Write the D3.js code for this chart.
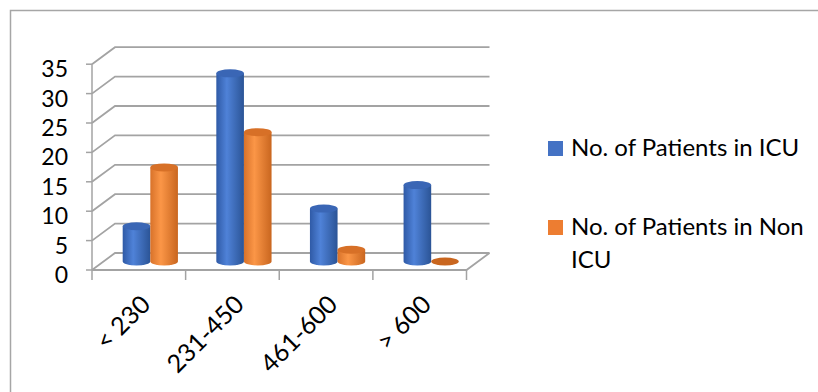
<!DOCTYPE html>
<html>
<head>
<meta charset="utf-8">
<script src="https://cdn.jsdelivr.net/npm/d3@7"></script>
<style>
  body { margin: 0; background: #fff; }
  svg { display: block; font-family: Lato, "Open Sans", sans-serif; }
</style>
</head>
<body>
<div id="chart"></div>
<script>
var categories = ["< 230", "231-450", "461-600", "> 600"];
var seriesNames = ["No. of Patients in ICU", "No. of Patients in Non ICU"];
var icu = [6, 32, 9, 13];
var nonIcu = [16, 22, 2, 0];
var yTicks = [0, 5, 10, 15, 20, 25, 30, 35];

var width = 818, height = 392;
var colors = ["#4472c4", "#ed7d31"];

var svg = d3.select("#chart").append("svg")
    .attr("width", width)
    .attr("height", height);

// outer frame (cut off at right and bottom)
svg.append("path")
    .attr("d", "M10.5,392 L10.5,10.5 L818,10.5")
    .attr("fill", "none")
    .attr("stroke", "#a6a6a6")
    .attr("stroke-width", 1.5);

// depth offset of the 3d box
var dx = 23, dy = 17;
var frontY0 = 270;

var x = d3.scaleBand()
    .domain(categories)
    .range([92, 466.5])
    .paddingInner(0.41)
    .paddingOuter(0.205);

var xs = d3.scaleBand()
    .domain(seriesNames)
    .range([0, x.bandwidth()]);

var yFront = d3.scaleLinear().domain([0, 35]).range([frontY0, frontY0 - 205.8]);
var yBack = function(v) { return yFront(v) - dy; };
var yMid = function(v) { return yFront(v) - dy / 2; };

var grid = svg.append("g")
    .attr("fill", "none")
    .attr("stroke", "#a3a3a3")
    .attr("stroke-width", 1.8);

// gridlines: side diagonal + back wall line
yTicks.forEach(function(v) {
  grid.append("path")
    .attr("d", "M92," + yFront(v) + " L" + (92 + dx) + "," + yBack(v) +
               " L" + (466.5 + dx) + "," + yBack(v));
});

// floor front edge and right diagonal
grid.append("path")
    .attr("d", "M92," + yFront(0) + " L466.5," + yFront(0) +
               " L" + (466.5 + dx) + "," + yBack(0));

// vertical axis + ticks
var axis = svg.append("g")
    .attr("stroke", "#a3a3a3")
    .attr("stroke-width", 1.5);
axis.append("line")
    .attr("x1", 92).attr("x2", 92)
    .attr("y1", yFront(35)).attr("y2", yFront(0));
yTicks.forEach(function(v) {
  axis.append("line")
    .attr("x1", 86).attr("x2", 92)
    .attr("y1", yFront(v)).attr("y2", yFront(v));
});

// category ticks
var step = x.step();
d3.range(categories.length + 1).forEach(function(i) {
  axis.append("line")
    .attr("x1", 92 + i * step).attr("x2", 92 + i * step)
    .attr("y1", yFront(0)).attr("y2", yFront(0) + 10);
});

// y labels
svg.append("g").selectAll("text")
  .data(yTicks)
  .enter().append("text")
    .attr("x", 68)
    .attr("y", function(d) { return yFront(d) + 4; })
    .attr("text-anchor", "end")
    .attr("dominant-baseline", "central")
    .attr("font-size", 23)
    .attr("fill", "#000")
    .text(function(d) { return d; });

// category labels
svg.append("g").selectAll("text")
  .data(categories)
  .enter().append("text")
    .attr("transform", function(d) {
      return "translate(" + (x(d) - x.step() * x.paddingInner() / 2 + step / 2 + 6) + ",299) rotate(-45)";
    })
    .attr("text-anchor", "end")
    .attr("dominant-baseline", "central")
    .attr("font-size", 25)
    .attr("fill", "#000")
    .text(function(d) { return d; });

// gradients for cylinders
var defs = svg.append("defs");
var grads = [
  ["#2f5aa6", "#4f82d8", "#2b5496"],
  ["#d8722a", "#fb9647", "#c9661f"]
];
grads.forEach(function(g, i) {
  var lg = defs.append("linearGradient")
    .attr("id", "cyl" + i)
    .attr("x1", "0%").attr("x2", "100%")
    .attr("y1", "0%").attr("y2", "0%");
  lg.append("stop").attr("offset", "0%").attr("stop-color", g[0]);
  lg.append("stop").attr("offset", "38%").attr("stop-color", g[1]);
  lg.append("stop").attr("offset", "100%").attr("stop-color", g[2]);
});
var topColors = ["#3a66b5", "#d77027"];

var rows = categories.map(function(c, i) {
  return [{cat: c, s: 0, v: icu[i]}, {cat: c, s: 1, v: nonIcu[i]}];
});

var ry = 4;
var bars = svg.append("g");
rows.forEach(function(pair) {
  pair.forEach(function(d) {
    var bx = x(d.cat) + dx / 2 + xs(seriesNames[d.s]);
    var w = xs.bandwidth();
    var rx = w / 2;
    var base = yMid(0), top = yMid(d.v);
    if (d.v > 0) {
      bars.append("path")
        .attr("d", "M" + bx + "," + top + " L" + bx + "," + base +
          " A" + rx + "," + ry + " 0 0 0 " + (bx + w) + "," + base +
          " L" + (bx + w) + "," + top + " Z")
        .attr("fill", "url(#cyl" + d.s + ")");
    }
    bars.append("ellipse")
      .attr("cx", bx + rx)
      .attr("cy", top)
      .attr("rx", rx)
      .attr("ry", ry)
      .attr("fill", d.v > 0 ? topColors[d.s] : "#c9661f");
  });
});

// legend
var legend = svg.append("g");
var legY = [141, 220];
seriesNames.forEach(function(name, i) {
  legend.append("rect")
    .attr("x", 548).attr("y", legY[i])
    .attr("width", 15).attr("height", 15)
    .attr("fill", colors[i]);
});
legend.append("text")
  .attr("x", 571).attr("y", 156)
  .attr("font-size", 24)
  .text(seriesNames[0]);
var t2 = legend.append("text")
  .attr("x", 571).attr("y", 235)
  .attr("font-size", 24);
t2.append("tspan").attr("x", 571).text("No. of Patients in Non");
t2.append("tspan").attr("x", 571).attr("dy", 32.5).text("ICU");
</script>
</body>
</html>
